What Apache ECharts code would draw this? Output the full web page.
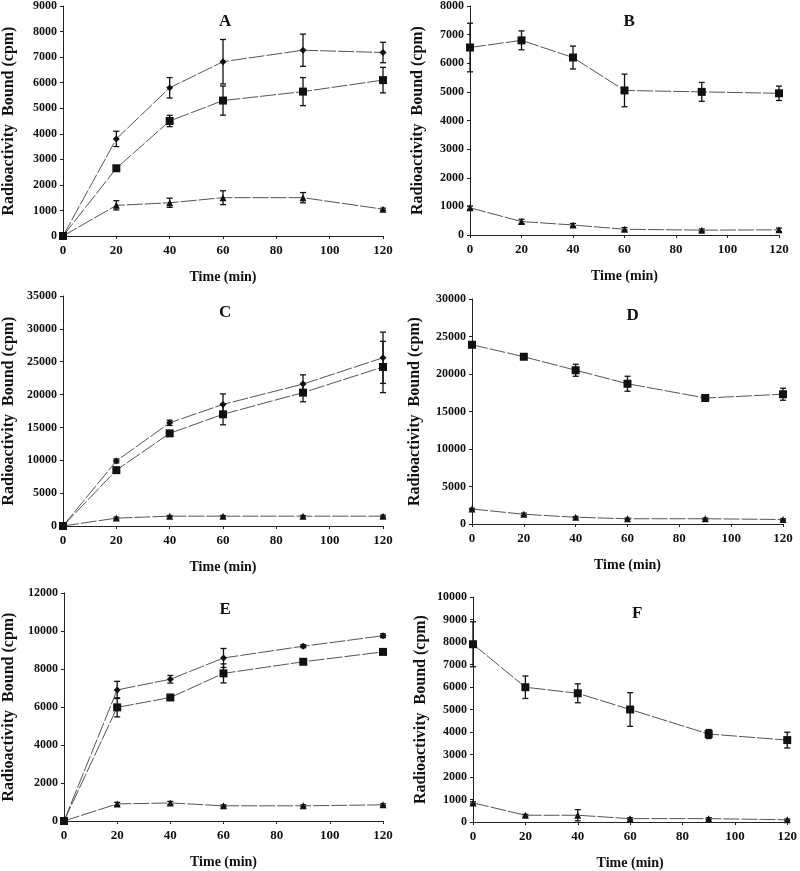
<!DOCTYPE html>
<html>
<head>
<meta charset="utf-8">
<script src="https://cdn.jsdelivr.net/npm/echarts@6/dist/echarts.min.js"></script>
<style>
  html, body { margin: 0; padding: 0; background: #fff; }
  #chart { width: 800px; height: 871px; }
</style>
</head>
<body>
<div id="chart"></div>
<script>
// sampling times (min)
const times = [0, 20, 40, 60, 90, 120]

// A
const aDiamond = [0, 3800, 5800, 6820, 7270, 7180]
const aDiamondErr = [0, 300, 400, 870, 630, 400]
const aSquare = [0, 2650, 4500, 5300, 5650, 6100]
const aSquareErr = [0, 100, 220, 570, 550, 500]
const aTriangle = [0, 1200, 1300, 1500, 1500, 1050]
const aTriangleErr = [0, 180, 180, 270, 200, 40]

// B
const bSquare = [6550, 6800, 6200, 5050, 5000, 4950]
const bSquareErr = [850, 330, 400, 570, 330, 250]
const bTriangle = [950, 470, 350, 200, 170, 180]
const bTriangleErr = [60, 80, 50, 60, 40, 60]

// C
const cDiamond = [0, 9900, 15700, 18500, 21600, 25600]
const cDiamondErr = [0, 300, 400, 1600, 1400, 3900]
const cSquare = [0, 8500, 14100, 17000, 20300, 24200]
const cSquareErr = [0, 300, 400, 1600, 1400, 3900]
const cTriangle = [0, 1200, 1500, 1500, 1500, 1500]
const cTriangleErr = [0, 150, 100, 100, 100, 150]

// D
const dSquare = [23900, 22300, 20500, 18700, 16800, 17300]
const dSquareErr = [200, 200, 800, 1000, 400, 800]
const dTriangle = [2000, 1300, 900, 700, 700, 600]
const dTriangleErr = [100, 150, 100, 100, 100, 100]

// E
const eDiamond = [0, 6900, 7460, 8580, 9200, 9750]
const eDiamondErr = [0, 450, 200, 500, 80, 100]
const eSquare = [0, 5980, 6500, 7770, 8380, 8900]
const eSquareErr = [0, 500, 150, 500, 80, 80]
const eTriangle = [0, 900, 950, 800, 800, 850]
const eTriangleErr = [0, 80, 80, 50, 50, 50]

// F
const fSquare = [7900, 5990, 5720, 5000, 3910, 3640]
const fSquareErr = [1000, 500, 420, 750, 200, 350]
const fTriangle = [850, 300, 300, 150, 150, 100]
const fTriangleErr = [50, 40, 250, 40, 40, 30]

const yLimits = { A: [9000, 1000], B: [8000, 1000], C: [35000, 5000], D: [30000, 5000], E: [12000, 2000], F: [10000, 1000] }

const serif = '"Liberation Serif", "Times New Roman", serif'
const ink = '#111'

const panels = [
  { key: 'A', grid: { left: 57, top: 5, width: 326, height: 231 }, nameGap: 46,
    sets: [['diamond', aDiamond, aDiamondErr], ['rect', aSquare, aSquareErr], ['triangle', aTriangle, aTriangleErr]] },
  { key: 'B', grid: { left: 470, top: 5, width: 309, height: 230 }, nameGap: 44,
    sets: [['rect', bSquare, bSquareErr], ['triangle', bTriangle, bTriangleErr]] },
  { key: 'C', grid: { left: 57, top: 296, width: 326, height: 230 }, nameGap: 46,
    sets: [['diamond', cDiamond, cDiamondErr], ['rect', cSquare, cSquareErr], ['triangle', cTriangle, cTriangleErr]] },
  { key: 'D', grid: { left: 472, top: 299, width: 311, height: 225 }, nameGap: 49,
    sets: [['rect', dSquare, dSquareErr], ['triangle', dTriangle, dTriangleErr]] },
  { key: 'E', grid: { left: 58, top: 593, width: 325, height: 228 }, nameGap: 47,
    sets: [['diamond', eDiamond, eDiamondErr], ['rect', eSquare, eSquareErr], ['triangle', eTriangle, eTriangleErr]] },
  { key: 'F', grid: { left: 473, top: 597, width: 320, height: 225 }, nameGap: 44,
    sets: [['rect', fSquare, fSquareErr], ['triangle', fTriangle, fTriangleErr]] }
]

const symbolSizes = { diamond: 7, rect: 8, triangle: 7 }

function errorBars(idx, values, errs) {
  return {
    type: 'custom',
    xAxisIndex: idx,
    yAxisIndex: idx,
    silent: true,
    clip: false,
    encode: { x: 0, y: 1 },
    data: times.map((t, i) => [t, values[i], errs[i]]),
    renderItem(params, api) {
      const x = api.value(0)
      const y = api.value(1)
      const e = api.value(2)
      if (!e) return
      const hi = api.coord([x, y + e])
      const lo = api.coord([x, y - e])
      const w = 3
      const style = { stroke: ink, lineWidth: 1.3 }
      return {
        type: 'group',
        children: [
          { type: 'line', shape: { x1: hi[0], y1: hi[1], x2: lo[0], y2: lo[1] }, style },
          { type: 'line', shape: { x1: hi[0] - w, y1: hi[1], x2: hi[0] + w, y2: hi[1] }, style },
          { type: 'line', shape: { x1: lo[0] - w, y1: lo[1], x2: lo[0] + w, y2: lo[1] }, style }
        ]
      }
    }
  }
}

const grid = []
const xAxis = []
const yAxis = []
const title = []
const series = []

panels.forEach((p, idx) => {
  grid.push(p.grid)
  title.push({
    text: p.key,
    left: p.grid.left + p.grid.width / 2 - 6,
    top: p.grid.top + 3,
    textStyle: { fontFamily: serif, fontWeight: 'bold', fontSize: 17, color: ink }
  })
  xAxis.push({
    type: 'value',
    gridIndex: idx,
    min: 0,
    max: 120,
    interval: 20,
    name: 'Time (min)',
    nameLocation: 'middle',
    nameGap: 34,
    nameTextStyle: { fontFamily: serif, fontWeight: 'bold', fontSize: 14, color: ink },
    axisLine: { show: true, lineStyle: { color: '#222', width: 1 } },
    axisTick: { show: true, length: 3, lineStyle: { color: '#222' } },
    axisLabel: { fontFamily: serif, fontWeight: 'bold', fontSize: 13, color: ink, margin: 8 },
    splitLine: { show: false }
  })
  const lim = yLimits[p.key]
  yAxis.push({
    type: 'value',
    gridIndex: idx,
    min: 0,
    max: lim[0],
    interval: lim[1],
    name: 'Radioactivity  Bound (cpm)',
    nameLocation: 'middle',
    nameGap: p.nameGap,
    nameTextStyle: { fontFamily: serif, fontWeight: 'bold', fontSize: 16, color: ink },
    axisLine: { show: true, lineStyle: { color: '#222', width: 1 } },
    axisTick: { show: true, length: 3, lineStyle: { color: '#222' } },
    axisLabel: { fontFamily: serif, fontWeight: 'bold', fontSize: 12, color: ink, margin: 6,
      formatter: v => String(v) },
    splitLine: { show: false }
  })
  p.sets.forEach(([symbol, values, errs]) => {
    series.push(errorBars(idx, values, errs))
    series.push({
      type: 'line',
      xAxisIndex: idx,
      yAxisIndex: idx,
      data: times.map((t, i) => [t, values[i]]),
      symbol,
      symbolSize: symbolSizes[symbol],
      showSymbol: true,
      clip: false,
      z: 3,
      animation: false,
      lineStyle: { color: '#555', width: 1, type: [16, 2] },
      itemStyle: { color: ink, borderWidth: 0 }
    })
  })
})

const chart = echarts.init(document.getElementById('chart'))
chart.setOption({
  backgroundColor: '#fff',
  animation: false,
  title,
  grid,
  xAxis,
  yAxis,
  series
})
</script>
</body>
</html>
